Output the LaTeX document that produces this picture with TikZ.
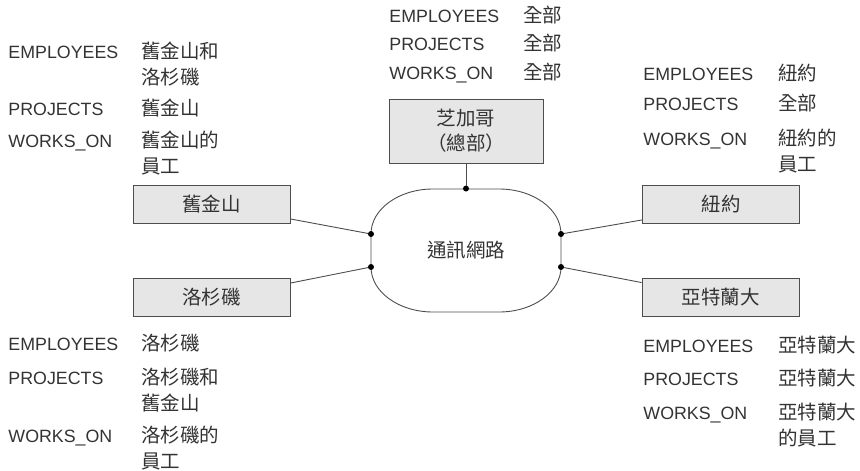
\documentclass[tikz,border=0pt]{standalone}
\usepackage{fontspec}
\setmainfont{Liberation Sans}
\newfontfamily\cjk{Noto Sans CJK TC}
\definecolor{BoxGray}{HTML}{E6E6E6}
\definecolor{LineGray}{HTML}{4D4D4D}
\definecolor{TextGray}{HTML}{333333}

\begin{document}
\begin{tikzpicture}[x=1pt, y=-1pt, line width=0.9pt,
		site/.style={draw=LineGray, fill=BoxGray, minimum width=157pt, minimum height=38pt, inner sep=0pt, text=TextGray, font=\cjk\fontsize{19.5}{25}\selectfont, align=center},
		rel/.style={anchor=base west, inner sep=0pt, text=TextGray, font=\fontsize{17.8}{26}\selectfont},
		frag/.style={anchor=base west, inner sep=0pt, text=TextGray, font=\cjk\fontsize{19.5}{26}\selectfont, align=left},
		twolines/.style={yshift=-26pt},
		corner/.style={x radius=62pt, y radius=45pt}]
		
		\useasboundingbox (0,0) rectangle (860,471);
		
		% network
		\node[minimum width=190pt, minimum height=123pt, text=TextGray, font=\cjk\fontsize{19.5}{25}\selectfont] (net) at (466,250.5) {通訊網路};
		
		\draw[LineGray] (433,189) -- (499,189) arc[start angle=90, end angle=0, corner]
			-- (561,267) arc[start angle=0, end angle=-90, corner]
			-- (433,312) arc[start angle=270, end angle=180, corner]
			-- (371,234) arc[start angle=180, end angle=90, corner] -- cycle;
		
		\coordinate (ntop) at (net.north);
		\coordinate (nl1) at (371,234);
		\coordinate (nl2) at (371,267);
		\coordinate (nr1) at (561,234);
		\coordinate (nr2) at (561,267);
		
		% sites
		\node[site, minimum width=154pt, minimum height=64pt] (chi) at (466,131) {芝加哥\\（總部）};
		\node[site] (sf) at (211.5,204.5) {舊金山};
		\node[site] (la) at (211.5,297.5) {洛杉磯};
		\node[site] (ny) at (721,204.5) {紐約};
		\node[site] (at) at (720.5,297) {亞特蘭大};
		
		\draw[LineGray] (chi.south) -- (ntop);
		\draw[LineGray] ([yshift=5pt]sf.south east) -- (nl1);
		\draw[LineGray] ([yshift=-5pt]la.north east) -- (nl2);
		\draw[LineGray] ([yshift=4pt]ny.south west) -- (nr1);
		\draw[LineGray] ([yshift=-5pt]at.north west) -- (nr2);
		
		\foreach \p in {ntop,nl1,nl2,nr1,nr2}
			\fill[black] (\p) circle (3pt);
		
		% fragments at chicago
		\node[rel] (chi-emp) at (389,22) {EMPLOYEES};
		\node[rel] (chi-proj) at (389,50.5) {PROJECTS};
		\node[rel] (chi-works) at (389,79) {WORKS\_ON};
		\node[frag] (chi-emp-v) at (523,22) {全部};
		\node[frag] (chi-proj-v) at (523,50.5) {全部};
		\node[frag] (chi-works-v) at (523,79) {全部};
		
		% fragments at san francisco
		\node[rel] (sf-emp) at (8,58) {EMPLOYEES};
		\node[rel] (sf-proj) at (8,115) {PROJECTS};
		\node[rel] (sf-works) at (8,147) {WORKS\_ON};
		\node[frag, twolines] (sf-emp-v) at (141,58) {舊金山和\\洛杉磯};
		\node[frag] (sf-proj-v) at (141,115) {舊金山};
		\node[frag, twolines] (sf-works-v) at (141,147) {舊金山的\\員工};
		
		% fragments at new york
		\node[rel] (ny-emp) at (643,80) {EMPLOYEES};
		\node[rel] (ny-proj) at (643,110) {PROJECTS};
		\node[rel] (ny-works) at (643,145) {WORKS\_ON};
		\node[frag] (ny-emp-v) at (778,80) {紐約};
		\node[frag] (ny-proj-v) at (778,110) {全部};
		\node[frag, twolines] (ny-works-v) at (778,145) {紐約的\\員工};
		
		% fragments at los angeles
		\node[rel] (la-emp) at (8,350) {EMPLOYEES};
		\node[rel] (la-proj) at (8,384) {PROJECTS};
		\node[rel] (la-works) at (8,442) {WORKS\_ON};
		\node[frag] (la-emp-v) at (141,350) {洛杉磯};
		\node[frag, twolines] (la-proj-v) at (141,384) {洛杉磯和\\舊金山};
		\node[frag, twolines] (la-works-v) at (141,442) {洛杉磯的\\員工};
		
		% fragments at atlanta
		\node[rel] (at-emp) at (643,352) {EMPLOYEES};
		\node[rel] (at-proj) at (643,385) {PROJECTS};
		\node[rel] (at-works) at (643,419) {WORKS\_ON};
		\node[frag] (at-emp-v) at (778,352) {亞特蘭大};
		\node[frag] (at-proj-v) at (778,385) {亞特蘭大};
		\node[frag, twolines] (at-works-v) at (778,419) {亞特蘭大\\的員工};
	\end{tikzpicture}
\end{document}
